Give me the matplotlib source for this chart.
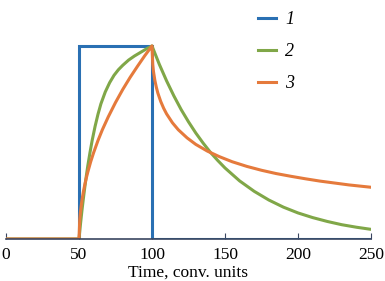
import numpy as np
from matplotlib import pyplot as plt

# pulse (curve 1)
t_pulse = [0, 50, 50, 100, 100, 250]
y_pulse = [0, 0, 1, 1, 0, 0]

# curve 2
t_green = [0, 50, 51, 52, 53, 54, 55, 56, 57.5, 59, 61, 63, 65, 68, 71, 74, 77, 80,
           84, 88, 92, 96, 100,
           105, 110, 115, 120, 125, 130, 135, 140, 145, 150, 160, 170, 180, 190,
           200, 210, 220, 230, 240, 250]
y_green = [0, 0, 0.076, 0.146, 0.21, 0.27, 0.326, 0.378, 0.447, 0.51, 0.583, 0.646,
           0.70, 0.762, 0.81, 0.848, 0.877, 0.90, 0.927, 0.948, 0.966, 0.984, 1.0,
           0.905, 0.819, 0.741, 0.670, 0.607, 0.549, 0.497, 0.449, 0.407, 0.368,
           0.301, 0.247, 0.202, 0.165, 0.135, 0.111, 0.091, 0.074, 0.061, 0.050]

# curve 3
t_orange = [0, 50, 50.5, 51, 52, 53, 54, 55, 56, 58, 60, 63, 66, 70, 75, 80, 85, 90,
            95, 100,
            100.5, 101, 102, 103, 104, 106, 108, 110, 114, 118, 124, 130, 138, 146,
            155, 165, 175, 185, 195, 205, 215, 225, 235, 250]
y_orange = [0, 0, 0.10, 0.141, 0.20, 0.245, 0.283, 0.316, 0.346, 0.40, 0.447, 0.51,
            0.566, 0.632, 0.707, 0.775, 0.837, 0.894, 0.949, 1.0,
            0.905, 0.868, 0.82, 0.785, 0.756, 0.712, 0.677, 0.648, 0.602, 0.566,
            0.524, 0.49, 0.455, 0.427, 0.40, 0.376, 0.356, 0.339, 0.325, 0.312,
            0.30, 0.29, 0.28, 0.268]

x_ticks = [0, 50, 100, 150, 200, 250]

plt.rcParams["font.family"] = "Liberation Serif"

fig = plt.figure(figsize=(3.85, 2.81), dpi=100)
ax = fig.add_axes([6 / 385, 42 / 281, 365 / 385, 239 / 281])

lw = 2.2
ax.plot(t_pulse, y_pulse, color="#2a70b3", lw=lw, label="1", solid_joinstyle="miter")
ax.plot(t_green, y_green, color="#80a748", lw=lw, label="2")
ax.plot(t_orange, y_orange, color="#e57a3c", lw=lw, label="3")

ax.set_xlim(0, 250)
ax.set_ylim(0, 1.238)
ax.set_xticks(x_ticks)
ax.set_yticks([])
for side in ["top", "right", "left"]:
    ax.spines[side].set_visible(False)
ax.spines["bottom"].set_color("#3a4660")
ax.spines["bottom"].set_linewidth(1.2)
ax.tick_params(axis="x", direction="in", length=4, color="#3a4660", labelsize=12.5, pad=6)
ax.set_xlabel("Time, conv. units", fontsize=12.5, labelpad=1)

leg = ax.legend(loc="upper left", bbox_to_anchor=(242 / 385, 1.017), bbox_transform=fig.transFigure,
                frameon=False, handlelength=1.0, handletextpad=0.5, labelspacing=0.82,
                prop={"family": "Liberation Serif", "style": "italic", "size": 13})

fig.savefig("out.png", dpi=100)
